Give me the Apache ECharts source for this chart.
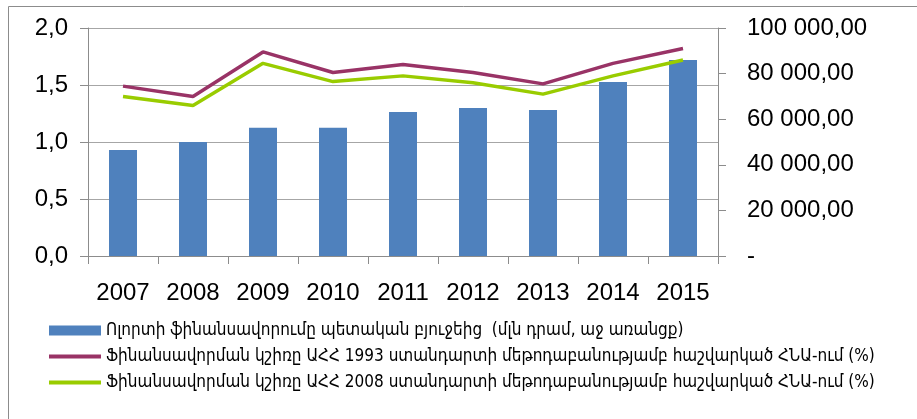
<!DOCTYPE html>
<html>
<head>
<meta charset="utf-8">
<script src="https://cdn.jsdelivr.net/npm/echarts@6/dist/echarts.min.js"></script>
<style>
html,body{margin:0;padding:0;background:#fff;}
#c{width:917px;height:419px;}
</style>
</head>
<body>
<div id="c"></div>
<script>
const years = ['2007','2008','2009','2010','2011','2012','2013','2014','2015'];
const funding = [46500, 50000, 56200, 56200, 63200, 64900, 64000, 76300, 86000];
const share1993 = [1.49, 1.40, 1.79, 1.61, 1.68, 1.61, 1.51, 1.69, 1.82];
const share2008 = [1.40, 1.32, 1.69, 1.53, 1.58, 1.52, 1.42, 1.58, 1.72];
const leftTicks = ['0,0','0,5','1,0','1,5','2,0'];
const rightTicks = ['-','20 000,00','40 000,00','60 000,00','80 000,00','100 000,00'];
const names = [
  'Ոլորտի ֆինանսավորումը պետական բյուջեից  (մլն դրամ, աջ առանցք)',
  'Ֆինանսավորման կշիռը ԱՀՀ 1993 ստանդարտի մեթոդաբանությամբ հաշվարկած ՀՆԱ-ում (%)',
  'Ֆինանսավորման կշիռը ԱՀՀ 2008 ստանդարտի մեթոդաբանությամբ հաշվարկած ՀՆԱ-ում (%)'
];
const font = 'Liberation Sans, Arial, sans-serif';
const legendFont = 'DejaVu Sans Condensed, DejaVu Sans, sans-serif';
const chart = echarts.init(document.getElementById('c'));
chart.setOption({
  animation: false,
  graphic: [{type:'rect', shape:{x:8.5,y:6.5,width:1000,height:1000}, style:{fill:'none', stroke:'#8c8c8c', lineWidth:1}, silent:true}],
  grid: {left: 88, right: 199, top: 28, bottom: 163},
  legend: {
    orient: 'vertical', left: 47, top: 322, itemGap: 9, padding: 0,
    itemWidth: 52, itemHeight: 10,
    textStyle: {fontFamily: legendFont, fontSize: 17, color: '#000'},
    data: [
      {name: names[0], icon: 'rect'},
      {name: names[1], itemStyle: {opacity: 0}, lineStyle: {width: 4}},
      {name: names[2], itemStyle: {opacity: 0}, lineStyle: {width: 4}}
    ]
  },
  xAxis: {
    type: 'category', data: years, boundaryGap: true,
    axisLine: {lineStyle: {color: '#8c8c8c'}},
    axisTick: {show: true, length: 8, lineStyle: {color: '#8c8c8c'}},
    axisLabel: {fontFamily: font, fontSize: 24, color: '#000', margin: 25}
  },
  yAxis: [
    {
      type: 'value', min: 0, max: 2, interval: 0.5, position: 'left',
      axisLine: {show: true, lineStyle: {color: '#8c8c8c'}},
      axisTick: {show: true, length: 8, lineStyle: {color: '#8c8c8c'}},
      splitLine: {show: true, lineStyle: {color: '#a6a6a6'}},
      axisLabel: {fontFamily: font, fontSize: 24, color: '#000', margin: 20,
        formatter: v => leftTicks[Math.round(v / 0.5)]}
    },
    {
      type: 'value', min: 0, max: 100000, interval: 20000, position: 'right',
      axisLine: {show: true, lineStyle: {color: '#8c8c8c'}},
      axisTick: {show: true, length: 8, lineStyle: {color: '#8c8c8c'}},
      splitLine: {show: false},
      axisLabel: {fontFamily: font, fontSize: 24, color: '#000', margin: 29,
        formatter: v => rightTicks[Math.round(v / 20000)]}
    }
  ],
  series: [
    {name: names[0], type: 'bar', yAxisIndex: 1, data: funding, barWidth: 28,
      itemStyle: {color: '#4f81bd'}},
    {name: names[1], type: 'line', yAxisIndex: 0, data: share1993, symbol: 'none',
      lineStyle: {color: '#993366', width: 3.5}, itemStyle: {color: '#993366'}},
    {name: names[2], type: 'line', yAxisIndex: 0, data: share2008, symbol: 'none',
      lineStyle: {color: '#99cc00', width: 3.5}, itemStyle: {color: '#99cc00'}}
  ]
});
</script>
</body>
</html>
